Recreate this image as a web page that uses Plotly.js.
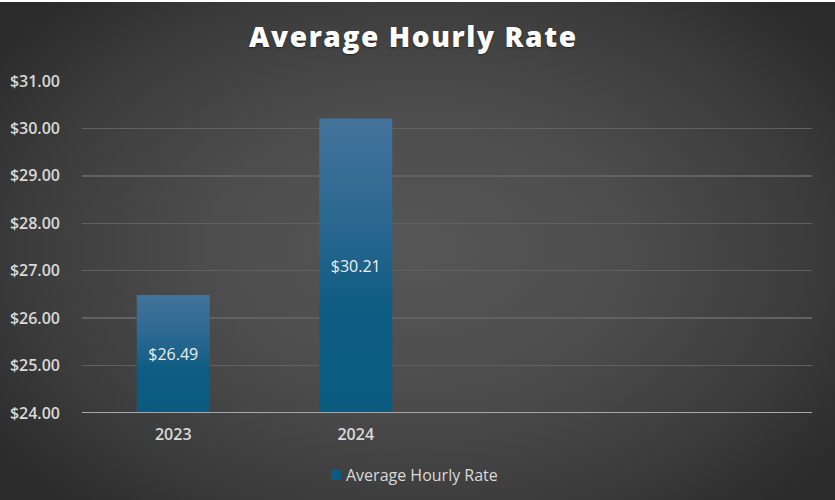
<!DOCTYPE html>
<html>
<head>
<meta charset="utf-8">
<script src="https://cdn.plot.ly/plotly-3.0.1.min.js"></script>
<style>
  html, body { margin: 0; padding: 0; background: #ffffff; }
  #wrap { position: relative; width: 835px; height: 500px; overflow: hidden; }
  #bg { position: absolute; left: 0; top: 2px; width: 835px; height: 498px;
        background: radial-gradient(ellipse 62% 70% at 50% 50%, #565656 0%, #4d4d4d 40%, #3c3c3c 75%, #2b2b2b 100%); }
  #chart { position: absolute; left: 0; top: 0; width: 835px; height: 500px; }
</style>
</head>
<body>
<div id="wrap"><div id="bg"></div><div id="chart"></div></div>
<script>
const years = ['2023', '2024'];
const rates = [26.49, 30.21];
const seriesName = 'Average Hourly Rate';
const chartTitle = 'Average Hourly Rate';
const yMin = 24;
const yMax = 31;
const yTickVals = [24, 25, 26, 27, 28, 29, 30, 31];
const yTickText = ['$24.00', '$25.00', '$26.00', '$27.00', '$28.00', '$29.00', '$30.00', '$31.00'];

const trace = {
  type: 'bar',
  x: years,
  y: rates.map(function (r) { return r - yMin; }),
  base: yMin,
  customdata: rates,
  name: seriesName,
  marker: { color: '#0e5b82', line: { width: 0 } },
  texttemplate: '$%{customdata:.2f}',
  textposition: 'inside',
  insidetextanchor: 'middle',
  textangle: 0,
  constraintext: 'none',
  textfont: { family: 'Open Sans, sans-serif', size: 16, color: '#eeeeee', weight: 500 },
  hoverinfo: 'skip',
  showlegend: true
};

const layout = {
  width: 835,
  height: 500,
  paper_bgcolor: 'rgba(0,0,0,0)',
  plot_bgcolor: 'rgba(0,0,0,0)',
  margin: { l: 82, r: 23, t: 81, b: 87 },
  bargap: 0.6,
  title: {
    text: chartTitle,
    font: { family: 'Open Sans, sans-serif', size: 28, color: '#ffffff', weight: 800 },
    x: 0.495, xref: 'container', xanchor: 'center',
    y: 0.926, yref: 'container', yanchor: 'middle'
  },
  xaxis: {
    type: 'category',
    range: [-0.5, 3.5],
    showgrid: false,
    zeroline: false,
    showline: false,
    ticks: '',
    tickfont: { family: 'Open Sans, sans-serif', size: 16, color: '#d9d9d9', weight: 600 },
    ticklabelstandoff: 10
  },
  yaxis: {
    range: [yMin, yMax],
    tickvals: yTickVals,
    ticktext: yTickText,
    showgrid: true,
    gridcolor: '#616161',
    gridwidth: 1.3,
    zeroline: false,
    showline: false,
    ticks: '',
    ticklabelstandoff: 21,
    tickfont: { family: 'Open Sans, sans-serif', size: 16, color: '#d9d9d9', weight: 600 }
  },
  shapes: [{
    type: 'line', xref: 'paper', yref: 'y',
    x0: 0, x1: 1, y0: yMin, y1: yMin,
    line: { color: '#a8a8a8', width: 2 }
  }],
  legend: {
    orientation: 'h',
    xref: 'container', x: 0.5, xanchor: 'center',
    yref: 'container', y: 0.05, yanchor: 'middle',
    font: { family: 'Open Sans, sans-serif', size: 16, color: '#d9d9d9', weight: 500 },
    bgcolor: 'rgba(0,0,0,0)',
    itemwidth: 30
  },
  showlegend: true
};

Plotly.newPlot('chart', [trace], layout, { displayModeBar: false, staticPlot: true }).then(function (gd) {
  const svg = gd.querySelector('svg.main-svg');
  const ns = 'http://www.w3.org/2000/svg';
  let defs = svg.querySelector('defs');
  if (!defs) { defs = document.createElementNS(ns, 'defs'); svg.insertBefore(defs, svg.firstChild); }
  const grad = document.createElementNS(ns, 'linearGradient');
  grad.setAttribute('id', 'barGrad');
  grad.setAttribute('x1', '0'); grad.setAttribute('y1', '0');
  grad.setAttribute('x2', '0'); grad.setAttribute('y2', '1');
  [['0%', '#44739a'], ['35%', '#2a6890'], ['65%', '#0e5c83'], ['100%', '#0b5a80']].forEach(function (s) {
    const st = document.createElementNS(ns, 'stop');
    st.setAttribute('offset', s[0]);
    st.setAttribute('stop-color', s[1]);
    grad.appendChild(st);
  });
  defs.appendChild(grad);
  gd.querySelectorAll('.barlayer .point path').forEach(function (p) {
    p.style.fill = 'url(#barGrad)';
  });
  const t = gd.querySelector('.gtitle');
  if (t) { t.style.letterSpacing = '1.6px'; t.style.textShadow = '0 1px 2px rgba(0,0,0,0.5)'; }

  // tighten legend: smaller swatch, closer text, place like the reference
  const lg = gd.querySelector('g.legend');
  if (lg) {
    const sym = lg.querySelector('.legendpoints path');
    const txt = lg.querySelector('text.legendtext');
    if (sym) { sym.setAttribute('d', 'M5,5H-5V-5H5Z'); sym.style.strokeWidth = '0'; }
    if (txt) txt.setAttribute('x', '30');
    if (sym) {
      const r = sym.getBoundingClientRect();
      const tr = lg.getAttribute('transform') || '';
      const m = tr.match(/translate\(\s*([-\d.]+)[ ,]+([-\d.]+)\s*\)/);
      if (m) {
        const nx = parseFloat(m[1]) + (331 - r.left);
        lg.setAttribute('transform', 'translate(' + nx + ',' + m[2] + ')');
      }
    }
  }
});
</script>
</body>
</html>
